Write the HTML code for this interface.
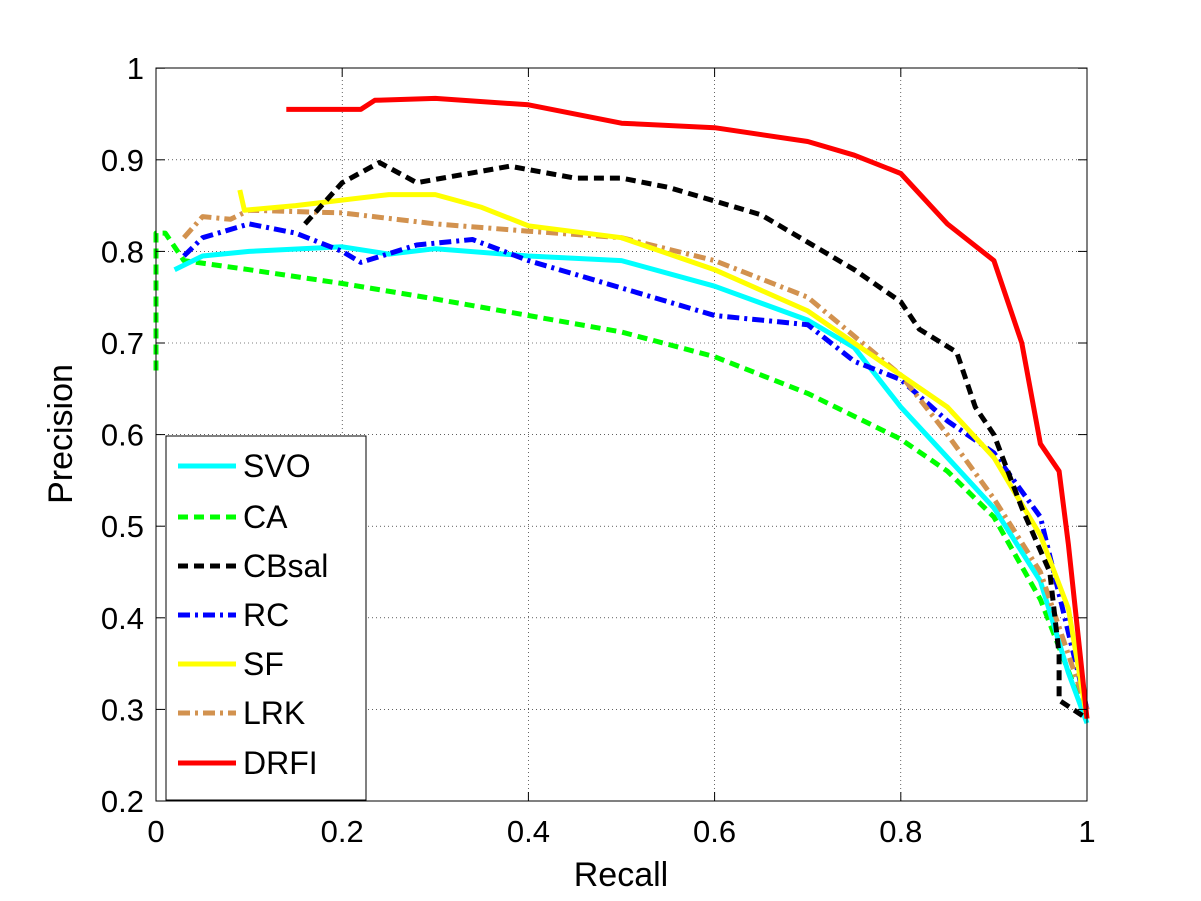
<!DOCTYPE html>
<html><head><meta charset="utf-8"><style>body{margin:0;background:#fff}svg{display:block}</style></head>
<body>
<svg id="s" width="1201" height="901" xmlns="http://www.w3.org/2000/svg" font-family="Liberation Sans, Arial, sans-serif">
<rect width="1201" height="901" fill="#fff"/>
<g id="grid"></g>
<g id="series"></g>
<rect x="156" y="68" width="931" height="733" fill="none" stroke="#000" stroke-width="1"/>
<g id="ticks" font-size="31"></g>
<text x="621" y="886" font-size="34" text-anchor="middle">Recall</text>
<text transform="translate(72,434) rotate(-90)" font-size="34" text-anchor="middle">Precision</text>
<g id="legend">
<rect x="166" y="436" width="200" height="364" fill="#fff" stroke="#000" stroke-width="1"/>
</g>
</svg>
<script>
const NS="http://www.w3.org/2000/svg";
const X=r=>156+931*r, Y=p=>801-(p-0.2)*916;
function el(t,a,parent,txt){const e=document.createElementNS(NS,t);for(const k in a)e.setAttribute(k,a[k]);if(txt!=null)e.textContent=txt;document.getElementById(parent).appendChild(e);return e;}
for(let i=1;i<5;i++){const x=X(i*0.2);el('line',{x1:x,x2:x,y1:68,y2:801,stroke:'#000','stroke-width':0.6,'stroke-dasharray':'1,3'},'grid');}
for(let i=1;i<8;i++){const y=Y(0.2+i*0.1);el('line',{x1:156,x2:1087,y1:y,y2:y,stroke:'#000','stroke-width':0.6,'stroke-dasharray':'1,3'},'grid');}
for(let i=0;i<=5;i++){const x=X(i*0.2);el('line',{x1:x,x2:x,y1:801,y2:792,stroke:'#000'},'ticks');el('line',{x1:x,x2:x,y1:68,y2:77,stroke:'#000'},'ticks');
 el('text',{x:x,y:842,'text-anchor':'middle'},'ticks',i==0?'0':i==5?'1':(i*0.2).toFixed(1));}
for(let i=0;i<=8;i++){const p=0.2+i*0.1,y=Y(p);el('line',{x1:156,x2:165,y1:y,y2:y,stroke:'#000'},'ticks');el('line',{x1:1087,x2:1078,y1:y,y2:y,stroke:'#000'},'ticks');
 el('text',{x:144,y:y+11,'text-anchor':'end'},'ticks',i==8?'1':p.toFixed(1));}
const S=[
['CA','#00ff00','10,6',[[0,0.67],[0,0.82],[0.01,0.82],[0.03,0.79],[0.1,0.78],[0.2,0.765],[0.3,0.748],[0.4,0.73],[0.5,0.712],[0.6,0.685],[0.7,0.645],[0.8,0.595],[0.85,0.56],[0.9,0.51],[0.95,0.42],[1,0.29]]],
['SVO','#00ffff',null,[[0.02,0.78],[0.05,0.795],[0.1,0.8],[0.2,0.805],[0.25,0.797],[0.3,0.803],[0.4,0.795],[0.5,0.79],[0.6,0.762],[0.7,0.725],[0.75,0.695],[0.8,0.63],[0.85,0.575],[0.9,0.52],[0.95,0.44],[0.98,0.34],[1,0.285]]],
['RC','#0000ff','12,5,3,5',[[0.03,0.795],[0.05,0.815],[0.1,0.83],[0.15,0.82],[0.2,0.8],[0.22,0.788],[0.28,0.807],[0.34,0.813],[0.4,0.79],[0.5,0.76],[0.6,0.73],[0.7,0.72],[0.75,0.68],[0.8,0.66],[0.85,0.615],[0.9,0.58],[0.95,0.51],[1,0.3]]],
['LRK','#d2924f','12,5,3,5',[[0.03,0.815],[0.05,0.838],[0.08,0.835],[0.1,0.845],[0.2,0.842],[0.3,0.83],[0.4,0.822],[0.5,0.815],[0.6,0.79],[0.7,0.75],[0.8,0.665],[0.85,0.6],[0.9,0.53],[0.95,0.45],[1,0.3]]],
['SF','#ffff00',null,[[0.09,0.867],[0.095,0.845],[0.15,0.85],[0.25,0.862],[0.3,0.862],[0.35,0.848],[0.4,0.828],[0.5,0.815],[0.6,0.78],[0.7,0.735],[0.8,0.665],[0.85,0.63],[0.9,0.575],[0.95,0.49],[0.98,0.41],[1,0.29]]],
['CBsal','#000000','10,6',[[0.16,0.83],[0.2,0.875],[0.24,0.897],[0.28,0.875],[0.38,0.893],[0.45,0.88],[0.5,0.88],[0.55,0.87],[0.6,0.855],[0.65,0.84],[0.7,0.81],[0.75,0.78],[0.8,0.745],[0.82,0.715],[0.86,0.69],[0.88,0.63],[0.9,0.6],[0.93,0.52],[0.96,0.45],[0.97,0.36],[0.97,0.31],[1,0.29]]],
['DRFI','#ff0000',null,[[0.14,0.955],[0.22,0.955],[0.235,0.965],[0.3,0.967],[0.4,0.96],[0.5,0.94],[0.6,0.935],[0.7,0.92],[0.75,0.905],[0.8,0.885],[0.85,0.83],[0.9,0.79],[0.93,0.7],[0.95,0.59],[0.97,0.56],[0.98,0.48],[1,0.29]]]];
for(const [n,c,d,pts] of S){const a={points:pts.map(q=>X(q[0]).toFixed(1)+','+Y(q[1]).toFixed(1)).join(' '),fill:'none',stroke:c,'stroke-width':5,'stroke-linejoin':'round'};if(d)a['stroke-dasharray']=d;el('polyline',a,'series');}
const L=[['SVO','#00ffff',null],['CA','#00ff00','10,6'],['CBsal','#000000','10,6'],['RC','#0000ff','12,5,3,5'],['SF','#ffff00',null],['LRK','#d2924f','12,5,3,5'],['DRFI','#ff0000',null]];
const ly=[466,517,566,615,664,713,763];
L.forEach((l,i)=>{const a={x1:178,x2:236,y1:ly[i],y2:ly[i],stroke:l[1],'stroke-width':5};if(l[2])a['stroke-dasharray']=l[2];el('line',a,'legend');
el('text',{x:243,y:ly[i]+11,'font-size':32},'legend',l[0]);});
</script>
</body></html>
